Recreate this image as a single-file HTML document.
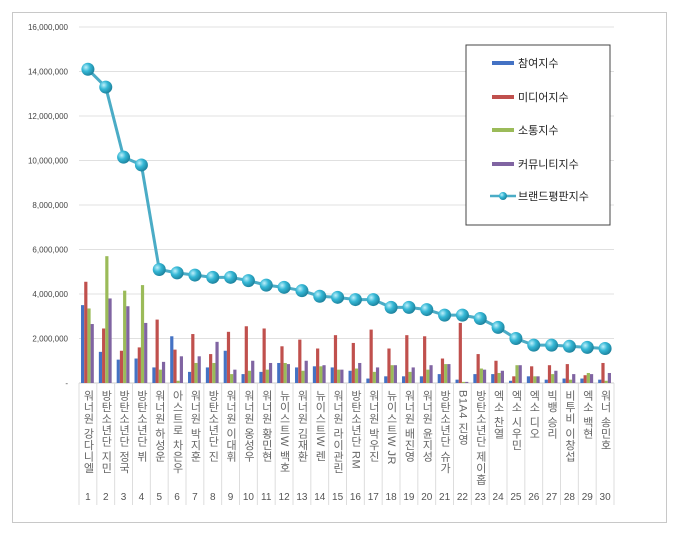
<!DOCTYPE html>
<html><head><meta charset="utf-8"><style>
body{margin:0;background:#fff;width:680px;height:536px;overflow:hidden;font-family:"Liberation Sans","Noto Sans CJK KR",sans-serif;}
#wrap{position:relative;width:680px;height:536px;}
.frame{position:absolute;left:12px;top:12px;width:655px;height:511px;border:1px solid #c8c8c8;box-sizing:border-box;}
.cat{position:absolute;top:390px;writing-mode:vertical-rl;font-size:11px;color:#666;line-height:12px;letter-spacing:0.5px;}
.num{position:absolute;top:492px;font-size:10px;color:#555;text-align:center;width:18px;}
</style></head><body>
<div id="wrap">
<div class="frame"></div>
<svg id="chart" width="680" height="536" style="position:absolute;left:0;top:0">
<defs>
<radialGradient id="ball" cx="0.35" cy="0.35" r="0.7"><stop offset="0" stop-color="#bff0fb"/><stop offset="0.45" stop-color="#35b8d6"/><stop offset="1" stop-color="#1b7f9a"/></radialGradient>
</defs>
<g id="grid"></g><g id="bars"></g><g id="line"></g>
<g>
<rect x="466" y="45" width="144" height="180" fill="#fff" stroke="#444" stroke-width="1"/>
<rect x="492" y="61" width="22" height="4" fill="#4472c4"/>
<text x="518" y="67" font-size="11" fill="#222">참여지수</text>
<rect x="492" y="95" width="22" height="4" fill="#c0504d"/>
<text x="518" y="101" font-size="11" fill="#222">미디어지수</text>
<rect x="492" y="128" width="22" height="4" fill="#9bbb59"/>
<text x="518" y="134" font-size="11" fill="#222">소통지수</text>
<rect x="492" y="162" width="22" height="4" fill="#8064a2"/>
<text x="518" y="168" font-size="11" fill="#222">커뮤니티지수</text>
<line x1="490" y1="196" x2="516" y2="196" stroke="#4bacc6" stroke-width="2.5"/>
<circle cx="503" cy="196" r="4" fill="url(#ball)"/>
<text x="518" y="200" font-size="11" fill="#222">브랜드평판지수</text>
</g>
</svg>
<div id="labels"></div>
</div>
<script>
const categories=["워너원 강다니엘","방탄소년단 지민","방탄소년단 정국","방탄소년단 뷔","워너원 하성운","아스트로 차은우","워너원 박지훈","방탄소년단 진","워너원 이대휘","워너원 옹성우","워너원 황민현","뉴이스트W 백호","워너원 김재환","뉴이스트W 렌","워너원 라이관린","방탄소년단 RM","워너원 박우진","뉴이스트W JR","워너원 배진영","워너원 윤지성","방탄소년단 슈가","B1A4 진영","방탄소년단 제이홉","엑소 찬열","엑소 시우민","엑소 디오","빅뱅 승리","비투비 이창섭","엑소 백현","워너 송민호"];
const participation=[3.5,1.4,1.05,1.1,0.7,2.1,0.5,0.7,1.45,0.4,0.5,0.9,0.7,0.75,0.7,0.55,0.2,0.3,0.3,0.3,0.4,0.15,0.4,0.4,0.1,0.3,0.15,0.2,0.2,0.15];
const media=[4.55,2.45,1.45,1.6,2.85,1.5,2.2,1.3,2.3,2.55,2.45,1.65,1.95,1.55,2.15,1.8,2.4,1.55,2.15,2.1,1.1,2.7,1.3,1.0,0.3,0.75,0.8,0.85,0.35,0.9];
const communication=[3.35,5.7,4.15,4.4,0.6,0.1,0.9,0.9,0.4,0.55,0.6,0.9,0.55,0.75,0.6,0.65,0.5,0.8,0.5,0.6,0.85,0.05,0.65,0.45,0.8,0.3,0.4,0.15,0.45,0.1];
const community=[2.65,3.8,3.45,2.7,0.95,1.2,1.2,1.85,0.6,1.0,0.9,0.85,1.0,0.8,0.6,0.9,0.7,0.8,0.7,0.8,0.85,0.05,0.6,0.55,0.8,0.3,0.55,0.4,0.4,0.45];
const brandIndex=[14.1,13.3,10.15,9.8,5.1,4.95,4.85,4.75,4.75,4.6,4.4,4.3,4.15,3.9,3.85,3.75,3.75,3.4,3.4,3.3,3.05,3.05,2.9,2.5,2.0,1.7,1.7,1.65,1.6,1.55];
const yTicks=[0,2,4,6,8,10,12,14,16];
const yTickLabels=["-","2,000,000","4,000,000","6,000,000","8,000,000","10,000,000","12,000,000","14,000,000","16,000,000"];
const NS="http://www.w3.org/2000/svg";
const x0=79,x1=614,yZero=383,yTop=27,yMax=16;
const bw=(x1-x0)/categories.length;
const yS=v=>yZero-(v/yMax)*(yZero-yTop);
const xC=i=>x0+bw*(i+0.5);
function mk(tag,attrs,parent){const e=document.createElementNS(NS,tag);for(const k in attrs)e.setAttribute(k,attrs[k]);parent.appendChild(e);return e;}
const grid=document.getElementById('grid');
yTicks.forEach((t,i)=>{
  const y=yS(t);
  if(t>0){const l=mk('line',{x1:x0,x2:x1,y1:y,y2:y,stroke:'#e0e0e0','stroke-width':1},grid);
  
  }
  const tx=mk('text',{x:68,y:y+3,'font-size':8,'text-anchor':'end',fill:'#444'},grid);
  tx.textContent=yTickLabels[i];
  
  
});
mk('line',{x1:x0,x2:x1,y1:yZero,y2:yZero,stroke:'#ccc'},grid);
for(let i=0;i<=categories.length;i++){
  const x=x0+bw*i;
  const l=mk('line',{x1:x,x2:x,y1:yZero,y2:505,stroke:'#ddd'},grid);
  
  
}
const bars=document.getElementById('bars');
const series=[[participation,'#4472c4','participation'],[media,'#c0504d','media'],[communication,'#9bbb59','communication'],[community,'#8064a2','community']];
const sw=3.2;
categories.forEach((c,i)=>{
  series.forEach((s,j)=>{
    const v=s[0][i];const x=xC(i)-2*sw+j*sw-0.5;
    const r=mk('rect',{x:x,y:yS(v),width:sw,height:yZero-yS(v),fill:s[1]},bars);
    
    
  });
});
const lg=document.getElementById('line');
const pts=brandIndex.map((v,i)=>xC(i)+','+yS(v)).join(' ');
const pl=mk('polyline',{points:pts,fill:'none',stroke:'#4bacc6','stroke-width':3},lg);


brandIndex.forEach((v,i)=>{
  const c=mk('circle',{cx:xC(i),cy:yS(v),r:6.5,fill:'url(#ball)'},lg);
  
  
});
const lab=document.getElementById('labels');
categories.forEach((c,i)=>{
  const d=document.createElement('div');d.className='cat';d.textContent=c;
  d.style.left=(xC(i)-6)+'px';
  
  
  lab.appendChild(d);
  const n=document.createElement('div');n.className='num';n.textContent=i+1;
  n.style.left=(xC(i)-9)+'px';
  
  
  lab.appendChild(n);
});
</script>
</body></html>
